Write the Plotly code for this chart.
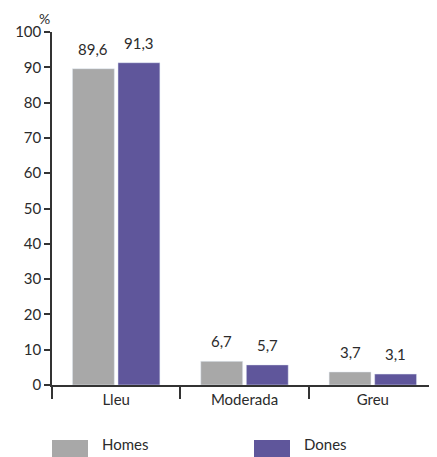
import plotly.graph_objects as go

categories = ["Lleu", "Moderada", "Greu"]
homes = [89.6, 6.7, 3.7]
dones = [91.3, 5.7, 3.1]
y_ticks = [0, 10, 20, 30, 40, 50, 60, 70, 80, 90, 100]
series = [("Homes", homes, "#a8a8a8"), ("Dones", dones, "#5f569b")]

FONT = "Lato"
TXT = "#2b2b2b"
OFF = 8  # page body margin
W, H = 437 - OFF, 457 - OFF
ML, MR, MT, MB = 52 - OFF, 0, 32 - OFF, H - (385 - OFF)
BARGAP = 0.29
BARGROUPGAP = 0.08

fig = go.Figure()
for name, vals, col in series:
    fig.add_trace(go.Bar(name=name, x=categories, y=vals, marker_color=col, showlegend=False))

plot_w = W - ML - MR
plot_h = H - MT - MB
cat_w = plot_w / len(categories)
slot = cat_w * (1 - BARGAP) / len(series)
annotations = []
for i, (name, vals, col) in enumerate(series):
    shift = (i - (len(series) - 1) / 2) * slot
    for c, v in zip(categories, vals):
        annotations.append(dict(x=c, y=v, xref="x", yref="y", text=f"{v:.1f}".replace(".", ","),
                                showarrow=False, xshift=shift, yshift=9, yanchor="bottom",
                                font=dict(size=15, color=TXT, family=FONT)))

annotations.append(dict(text="%", xref="paper", yref="paper", x=-0.02, y=1.0, yshift=3,
                        xanchor="center", yanchor="bottom", showarrow=False,
                        font=dict(size=14, color=TXT, family=FONT)))


def py(page_y):
    return -((page_y - OFF) - (H - MB)) / plot_h


shapes = []
leg_x = [0, 202 / plot_w]
for (name, vals, col), lx in zip(series, leg_x):
    shapes.append(dict(type="rect", xref="paper", yref="paper", x0=lx, x1=lx + 36 / plot_w,
                       y0=py(440), y1=py(470), fillcolor=col, line=dict(width=0)))
    annotations.append(dict(text=name, xref="paper", yref="paper", x=lx + 48 / plot_w,
                            y=py(455), xanchor="left", yanchor="bottom",
                            showarrow=False, font=dict(size=15, color=TXT, family=FONT)))

fig.update_layout(
    width=W, height=H,
    margin=dict(l=ML, r=MR, t=MT, b=MB, autoexpand=False),
    paper_bgcolor="white", plot_bgcolor="white",
    separators=",.",
    barmode="group", bargap=BARGAP, bargroupgap=BARGROUPGAP,
    font=dict(family=FONT, size=15, color=TXT),
    showlegend=False,
    annotations=annotations,
    shapes=shapes,
)
fig.update_xaxes(showline=True, linecolor="#333333", linewidth=1.5, automargin=False,
                 ticks="outside", tickson="boundaries", ticklen=12, tickwidth=1.5, tickcolor="#333333",
                 showgrid=False, tickfont=dict(size=15, color=TXT, family=FONT))
fig.update_yaxes(range=[0, 100], tickvals=y_ticks, showline=True, linecolor="#333333", linewidth=1.5,
                 automargin=False, ticks="outside", ticklen=6, tickwidth=1.5, tickcolor="#333333",
                 showgrid=False, zeroline=False, tickfont=dict(size=15, color=TXT, family=FONT))

fig.write_html("out.html")
